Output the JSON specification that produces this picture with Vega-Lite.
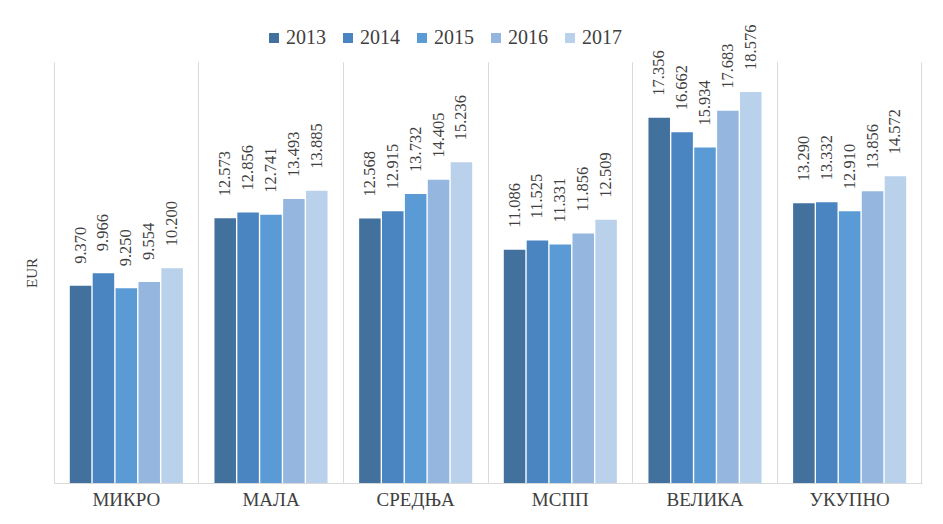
{
  "$schema": "https://vega.github.io/schema/vega-lite/v6.json",
  "width": 868,
  "height": 421,
  "autosize": {"type": "none"},
  "padding": {"left": 54, "top": 62, "right": 21, "bottom": 41},
  "background": "white",
  "config": {
    "view": {"stroke": null},
    "font": "Liberation Serif",
    "axis": {"labelFont": "Liberation Serif", "titleFont": "Liberation Serif"}
  },
  "data": {
    "values": [
      {"cat": "МИКРО", "year": "2013", "v": 9.370},
      {"cat": "МИКРО", "year": "2014", "v": 9.966},
      {"cat": "МИКРО", "year": "2015", "v": 9.250},
      {"cat": "МИКРО", "year": "2016", "v": 9.554},
      {"cat": "МИКРО", "year": "2017", "v": 10.200},
      {"cat": "МАЛА", "year": "2013", "v": 12.573},
      {"cat": "МАЛА", "year": "2014", "v": 12.856},
      {"cat": "МАЛА", "year": "2015", "v": 12.741},
      {"cat": "МАЛА", "year": "2016", "v": 13.493},
      {"cat": "МАЛА", "year": "2017", "v": 13.885},
      {"cat": "СРЕДЊА", "year": "2013", "v": 12.568},
      {"cat": "СРЕДЊА", "year": "2014", "v": 12.915},
      {"cat": "СРЕДЊА", "year": "2015", "v": 13.732},
      {"cat": "СРЕДЊА", "year": "2016", "v": 14.405},
      {"cat": "СРЕДЊА", "year": "2017", "v": 15.236},
      {"cat": "МСПП", "year": "2013", "v": 11.086},
      {"cat": "МСПП", "year": "2014", "v": 11.525},
      {"cat": "МСПП", "year": "2015", "v": 11.331},
      {"cat": "МСПП", "year": "2016", "v": 11.856},
      {"cat": "МСПП", "year": "2017", "v": 12.509},
      {"cat": "ВЕЛИКА", "year": "2013", "v": 17.356},
      {"cat": "ВЕЛИКА", "year": "2014", "v": 16.662},
      {"cat": "ВЕЛИКА", "year": "2015", "v": 15.934},
      {"cat": "ВЕЛИКА", "year": "2016", "v": 17.683},
      {"cat": "ВЕЛИКА", "year": "2017", "v": 18.576},
      {"cat": "УКУПНО", "year": "2013", "v": 13.290},
      {"cat": "УКУПНО", "year": "2014", "v": 13.332},
      {"cat": "УКУПНО", "year": "2015", "v": 12.910},
      {"cat": "УКУПНО", "year": "2016", "v": 13.856},
      {"cat": "УКУПНО", "year": "2017", "v": 14.572}
    ]
  },
  "resolve": {"axis": {"x": "independent"}},
  "layer": [
    {
      "mark": {"type": "bar"},
      "encoding": {
        "x": {
          "field": "cat", "type": "nominal", "sort": null,
          "scale": {"paddingInner": 0, "paddingOuter": 0},
          "axis": {
            "title": null, "orient": "bottom",
            "grid": true, "bandPosition": 0, "gridColor": "#d9d9d9", "gridWidth": 1,
            "domain": true, "domainColor": "#d9d9d9", "domainWidth": 1,
            "ticks": false, "labelAngle": 0, "labelPadding": 7,
            "labelFontSize": 19, "labelColor": "#404040"
          }
        },
        "xOffset": {
          "field": "year", "type": "nominal",
          "scale": {"paddingInner": 0.06, "paddingOuter": 0.69}
        },
        "y": {
          "field": "v", "type": "quantitative",
          "scale": {"domain": [0, 20], "nice": false},
          "axis": {
            "title": "EUR", "labels": false, "ticks": false, "domain": false, "grid": false,
            "titleFontSize": 15, "titleFontWeight": "normal", "titleColor": "#404040", "titlePadding": 15
          }
        },
        "color": {
          "field": "year", "type": "nominal",
          "scale": {"range": ["#41719c", "#4a85c2", "#5b9bd5", "#95b7df", "#bad1ec"]},
          "legend": {
            "title": null, "orient": "none", "direction": "horizontal",
            "legendX": 210, "legendY": -34,
            "symbolType": "square", "symbolSize": 100, "symbolStrokeWidth": 0,
            "labelFontSize": 20, "labelColor": "#404040", "labelFont": "Liberation Serif",
            "labelOffset": 2, "columnPadding": 12
          }
        }
      }
    },
    {
      "mark": {"type": "text", "angle": 270, "align": "left", "baseline": "middle", "dx": 22, "fontSize": 16.5, "color": "#404040", "font": "Liberation Serif"},
      "encoding": {
        "x": {
          "field": "cat", "type": "nominal", "sort": null,
          "scale": {"paddingInner": 0, "paddingOuter": 0},
          "axis": {
            "title": null, "orient": "top", "labels": false, "ticks": false, "domain": false,
            "grid": true, "bandPosition": 1, "gridColor": "#d9d9d9", "gridWidth": 1
          }
        },
        "xOffset": {"field": "year", "type": "nominal"},
        "y": {"field": "v", "type": "quantitative"},
        "text": {"field": "v", "type": "quantitative", "format": ".3f"}
      }
    }
  ]
}
